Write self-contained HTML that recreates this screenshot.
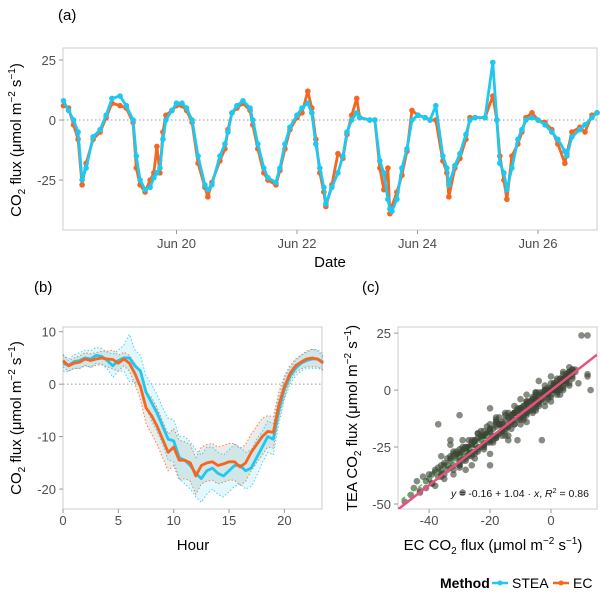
<!DOCTYPE html>
<html><head><meta charset="utf-8">
<style>
html,body{margin:0;padding:0;background:#fff;}
svg{display:block;font-family:"Liberation Sans Narrow","Liberation Sans",sans-serif;}
.tick{fill:#4d4d4d;font-size:13px;}
.ttl{fill:#000;font-size:15px;}
</style></head>
<body>
<svg id="fig" width="600" height="593" viewBox="0 0 600 593" xmlns="http://www.w3.org/2000/svg">
<text x="58" y="20" class="ttl">(a)</text>
<text x="34" y="292" class="ttl">(b)</text>
<text x="362" y="292" class="ttl">(c)</text>
<g id="pa"></g>
<g id="pb"></g>
<g id="pc"></g>
<g id="legend">
<text x="440" y="588" style="font-size:14px;font-weight:bold">Method</text>
<g>
<line x1="492" y1="583" x2="508" y2="583" stroke="#1ec8f0" stroke-width="2.5"/><circle cx="500" cy="583" r="2.5" fill="#1ec8f0"/>
<text x="512" y="588" style="font-size:14px">STEA</text></g>
<g>
<line x1="553" y1="583" x2="569" y2="583" stroke="#f8651e" stroke-width="2.5"/><circle cx="561" cy="583" r="2.5" fill="#f8651e"/>
<text x="573" y="588" style="font-size:14px">EC</text></g>
</g>
</svg>
<script>
// ---- Panel a data (hours since Jun 18 00:00) ----
const tsHours=[3,5,7,8.8,10.4,12,14.8,17.6,20,22.3,25.5,28,30.7,32,33.5,35.5,37.5,39,40.2,41.4,42.6,43.8,46.2,48,50.2,52,54.2,56.6,59.3,60.5,62.1,65.3,67.3,68.5,70.1,72.1,74.5,77.3,78.4,80.4,82.8,84.4,87.6,89.2,91.2,93.2,96,98,100.3,101.9,103.5,105.1,106.7,107.5,109.9,112.3,114.3,115.9,117.8,119.8,121,125,127,129,130.6,132.2,133,133.8,135.8,137.8,139.8,141.8,144.2,147,149,151.3,154.1,155.7,156.5,158.9,160.9,163.3,164.9,166.9,170.9,174,175.6,176.8,178.4,179.6,181.6,184,185.6,187.2,189.6,192,194.8,197.5,199.9,202.7,203.5,205.5,208.7,210.7,213.5,215.5];
const tsStea=[8,4,0,-5,-25,-20,-7,-4,2,9,10,6,0,-15,-25,-29,-28,-24,-22,-20,-8,0,4,7,7,5,0,-15,-27,-29,-27,-15,-10,-5,3,6,8,5,0,-10,-20,-24,-26,-20,-10,-3,2,5,7,3,-10,-20,-28,-35,-28,-22,-15,-5,0,3,1,0,0,-17,-22,-33,-37,-38,-33,-20,-12,0,2,1,0,6,-15,-20,-27,-19,-14,-6,0,1,1,24,0,-18,-22,-29,-20,-8,-4,0,1,0,-2,-5,-8,-13,-15,-7,-4,-2,1,3];
const tsEc=[6,5,-2,-8,-27,-18,-8,-5,1,7,6,5,-1,-20,-27,-30,-25,-22,-11,-22,-5,2,4,6,6,4,-1,-18,-28,-32,-26,-17,-12,-4,3,5,7,4,-2,-12,-22,-25,-27,-21,-12,-4,1,3,12,5,-8,-22,-30,-36,-27,-14,-16,-6,2,9,1,0,0,-20,-29,-20,-39,-36,-30,-23,-13,4,2,1,0,0,-17,-22,-32,-20,-16,-8,1,1,1,10,0,-15,-25,-33,-15,-10,-5,1,3,0,-1,-4,-10,-18,-14,-5,-3,-5,2,3];
const tsYTicks=[25,0,-25];
const tsXTickHours=[48,96,144,192];
const tsXTickLabels=["Jun 20","Jun 22","Jun 24","Jun 26"];
// ---- Panel b data ----
const hours=[0,0.5,1,1.5,2,2.5,3,3.5,4,4.5,5,5.5,6,6.5,7,7.5,8,8.5,9,9.5,10,10.5,11,11.5,12,12.5,13,13.5,14,14.5,15,15.5,16,16.5,17,17.5,18,18.5,19,19.5,20,20.5,21,21.5,22,22.5,23,23.5];
const ecMean=[4.5,3.5,4,4.2,4.8,4.5,4.8,5,4.8,4.7,4,4.8,4,2,-0.5,-4.5,-6,-8,-10.5,-13,-12,-14.5,-14.5,-15,-17.5,-15.5,-15,-14.8,-15.5,-15.2,-14.8,-14.8,-15.8,-15,-13,-11.5,-10,-9,-9.2,-4,-0.5,2,3.5,4.2,4.8,5,4.8,4];
const steaMean=[4,3.6,4.3,4.5,5,4.8,5.5,5.3,4.5,3.5,4.5,5,5,3.5,2.5,-1.5,-3.5,-5.5,-8,-10.5,-10.8,-14,-14.5,-15.5,-17,-18,-16.5,-16,-17,-17.5,-16.5,-15.5,-15.5,-16.5,-16,-14,-12,-10,-10.5,-5,-1,1.5,3,4,4.5,4.8,4.8,4.2];
const ecSpread=[1.2,1,1,1.2,1.2,1.3,1.2,1.3,1.5,1.8,1.5,1.3,1.5,2,2.5,3,3.5,3.5,3.5,3.5,3.5,3.8,3.5,3.5,3.5,3.5,3.5,3.5,3.5,3.5,3.5,3.5,3.5,3.5,3.5,3.5,3.5,3,3,2.5,2,1.5,1.3,1.3,1.5,1.7,1.5,1.3];
const steaSpread=[1.5,1.2,1.3,1.5,1.5,1.6,1.5,1.5,1.6,2.2,2,2.5,4.5,3,3,3,3.5,3.5,3.5,4,4,4,4.5,4.5,4.5,4.5,4.5,4,4,4,4,4,3.5,3.5,3.5,3.5,3,3,3,2.5,2,1.5,1.5,1.5,1.5,1.8,1.8,1.5];
const pbYTicks=[10,0,-10,-20];
const pbXTicks=[0,5,10,15,20];
// ---- Panel c data (EC x, TEA y) ----
const scEc=[-48,-46,-44,-43,-42,-41,-40,-39,-38,-37,-36,-35,-35,-34,-33,-32,-31,-30,-30,-29,-28,-28,-27,-26,-26,-25,-24,-24,-23,-22,-22,-21,-20,-20,-19,-18,-18,-17,-16,-16,-15,-14,-14,-13,-12,-12,-11,-10,-10,-9,-8,-8,-7,-6,-6,-5,-4,-4,-3,-2,-2,-1,0,0,1,2,2,3,4,4,5,6,6,7,8,-36,-35,-33,-30,-28,-27,-25,-24,-22,-21,-19,-18,-16,-15,-13,-11,-9,-7,-5,-3,-1,1,3,5,7,-38,-32,-29,-26,-23,-20,-17,-14,-12,-10,-8,-6,-4,-2,0,2,4,12,12,13,-29,-41,-3,-37,-30,-20,-10,-25,-15,-5,-33,-18,-8,3,6,
-45,-43,-40,-38,-36,-34,-33,-32,-31,-30,-29,-28,-27,-26,-25,-24,-23,-22,-21,-20,-19,-18,-17,-16,-15,-14,-13,-12,-11,-10,-9,-8,-7,-6,-5,-4,-3,-2,-1,0,1,2,3,4,5,6,7,8,
-39,-37,-35,-34,-32,-30,-29,-27,-25,-23,-21,-20,-18,-17,-15,-13,-12,-10,-9,-7,-6,-4,-3,-1,0,1,3,4,5,6,7,2,-2,-5,-8,-11,-14,-19,-24,-28,
-33,-31,-28,-26,-24,-22,-20,-18,-16,-14,-12,-10,-8,-6,-4,-2,0,2,4,6,-36,-30,-26,-22,-17,-13,-9,-5,-1,3];
const scTea=[-49,-46,-40,-45,-38,-43,-37,-41,-35,-38,-36,-32,-39,-35,-30,-33,-28,-34,-26,-31,-25,-30,-27,-29,-22,-24,-27,-21,-25,-20,-24,-19,-23,-17,-20,-21,-16,-19,-15,-18,-17,-12,-16,-14,-15,-10,-13,-12,-8,-11,-10,-6,-9,-7,-3,-6,-5,-1,-4,-2,2,-1,0,3,1,2,5,3,4,7,5,6,8,7,8,-29,-33,-24,-28,-35,-22,-30,-19,-26,-16,-23,-14,-20,-11,-17,-8,-13,-5,-9,-2,-4,3,0,6,9,-42,-37,-25,-33,-18,-28,-12,-20,-7,-15,-2,-10,4,-7,-5,-2,8,24,6,0,-45,-40,-22,-15,-11,-8,-4,-22,-10,-1,-22,-12,-14,-2,2,
-43,-44,-39,-36,-37,-33,-31,-35,-30,-32,-27,-31,-25,-28,-23,-26,-21,-25,-19,-22,-17,-21,-15,-18,-13,-16,-11,-15,-9,-13,-7,-11,-5,-9,-3,-7,-1,-5,1,-3,3,-1,5,2,4,8,6,9,
-41,-34,-37,-30,-28,-33,-26,-29,-27,-22,-23,-18,-20,-15,-16,-14,-10,-11,-7,-8,-4,-6,-2,-3,1,0,1,5,7,3,5,4,0,-1,-5,-9,-10,-22,-19,-25,
-34,-27,-29,-23,-25,-18,-22,-14,-17,-12,-13,-9,-9,-4,-5,-1,-2,2,1,6,-33,-30,-24,-23,-19,-11,-12,-4,-2,3];
const pcXTicks=[-40,-20,0];
const pcYTicks=[25,0,-25,-50];
const fitIntercept=-0.16, fitSlope=1.04;

const NS="http://www.w3.org/2000/svg";
function mk(tag,attrs,parent){const e=document.createElementNS(NS,tag);for(const k in attrs)e.setAttribute(k,attrs[k]);parent.appendChild(e);return e;}
function lin(d0,d1,r0,r1){return v=>r0+(v-d0)/(d1-d0)*(r1-r0);}
const EC="#f8651e", ST="#1ec8f0";
const UNIT='<tspan font-size="10" dy="4">2</tspan><tspan dy="-4"> flux (μmol m</tspan><tspan font-size="10" dy="-6">−2</tspan><tspan dy="6"> s</tspan><tspan font-size="10" dy="-6">−1</tspan><tspan dy="6">)</tspan>';

// ===== Panel a =====
(function(){
 const g=document.getElementById('pa');
 const L=63,R=597,T=48,B=230;
 const x=lin(2.8,215.5,L,R), y=lin(30,-45.8,T,B);
 let e=mk('rect',{x:L,y:T,width:R-L,height:B-T,fill:'none',stroke:'#ccc'},g);
 
 e=mk('line',{x1:L,x2:R,y1:y(0),y2:y(0),stroke:'#999','stroke-dasharray':'1.5,2.5'},g);
 
 tsYTicks.forEach(v=>{mk('line',{x1:L-4,x2:L,y1:y(v),y2:y(v),stroke:'#999'},g);
  const t=mk('text',{x:L-7,y:y(v)+5,'text-anchor':'end',class:'tick'},g);t.textContent=v;
  });
 tsXTickHours.forEach((h,i)=>{mk('line',{x1:x(h),x2:x(h),y1:B,y2:B+4,stroke:'#999'},g);
  const t=mk('text',{x:x(h),y:248,'text-anchor':'middle',class:'tick'},g);t.textContent=tsXTickLabels[i];
  });
 let t=mk('text',{x:330,y:267,'text-anchor':'middle',class:'ttl'},g);t.textContent='Date';
 
 t=mk('text',{x:0,y:0,'text-anchor':'middle',class:'ttl',transform:'translate(21,140) rotate(-90)'},g);
 t.innerHTML='CO'+UNIT;
 
 [[tsEc,EC,'ec'],[tsStea,ST,'stea']].forEach(([arr,c,n])=>{
  const p=mk('polyline',{points:tsHours.map((h,i)=>x(h)+','+y(arr[i])).join(' '),fill:'none',stroke:c,'stroke-width':2.8,'stroke-linejoin':'round'},g);
  
  tsHours.forEach((h,i)=>{const d=mk('circle',{cx:x(h),cy:y(arr[i]),r:2.8,fill:c},g);
   });
 });
})();

// ===== Panel b =====
(function(){
 const g=document.getElementById('pb');
 const L=63,R=322,T=327,B=509;
 const x=lin(0,23.4,L,R), y=lin(10.9,-23.8,T,B);
 let e=mk('rect',{x:L,y:T,width:R-L,height:B-T,fill:'none',stroke:'#ccc'},g);
 
 e=mk('line',{x1:L,x2:R,y1:y(0),y2:y(0),stroke:'#999','stroke-dasharray':'1.5,2.5'},g);
 
 pbYTicks.forEach(v=>{mk('line',{x1:L-4,x2:L,y1:y(v),y2:y(v),stroke:'#999'},g);
  const t=mk('text',{x:L-7,y:y(v)+5,'text-anchor':'end',class:'tick'},g);t.textContent=v;
  });
 pbXTicks.forEach(v=>{mk('line',{x1:x(v),x2:x(v),y1:B,y2:B+4,stroke:'#999'},g);
  const t=mk('text',{x:x(v),y:525,'text-anchor':'middle',class:'tick'},g);t.textContent=v;
  });
 let t=mk('text',{x:193,y:550,'text-anchor':'middle',class:'ttl'},g);t.textContent='Hour';
 
 t=mk('text',{x:0,y:0,'text-anchor':'middle',class:'ttl',transform:'translate(21,418) rotate(-90)'},g);
 t.innerHTML='CO'+UNIT;
 
 [[ecMean,ecSpread,EC,'rgba(120,120,110,0.15)','ec'],[steaMean,steaSpread,ST,'rgba(30,200,240,0.13)','stea']].forEach(([m,s,c,f,n])=>{
  const up=hours.map((h,i)=>x(h)+','+y(m[i]+s[i])), lo=hours.map((h,i)=>x(h)+','+y(m[i]-s[i]));
  const b=mk('polygon',{points:up.concat(lo.slice().reverse()).join(' '),fill:f,stroke:'none'},g);
  
  [up,lo].forEach(pts=>{const l=mk('polyline',{points:pts.join(' '),fill:'none',stroke:c,'stroke-width':1,'stroke-dasharray':'1.5,2',opacity:0.8},g);
   });
 });
 [[steaMean,ST,'stea'],[ecMean,EC,'ec']].forEach(([m,c,n])=>{
  const p=mk('polyline',{points:hours.map((h,i)=>x(h)+','+y(m[i])).join(' '),fill:'none',stroke:c,'stroke-width':2.8,'stroke-linejoin':'round'},g);
  
 });
})();

// ===== Panel c =====
(function(){
 const g=document.getElementById('pc');
 const L=398,R=597,T=327,B=509;
 const x=lin(-50.2,15.1,L,R), y=lin(27.7,-52.2,T,B);
 let e=mk('rect',{x:L,y:T,width:R-L,height:B-T,fill:'none',stroke:'#ccc'},g);
 
 pcYTicks.forEach(v=>{mk('line',{x1:L-4,x2:L,y1:y(v),y2:y(v),stroke:'#999'},g);
  const t=mk('text',{x:L-7,y:y(v)+5,'text-anchor':'end',class:'tick'},g);t.textContent=v;
  });
 pcXTicks.forEach(v=>{mk('line',{x1:x(v),x2:x(v),y1:B,y2:B+4,stroke:'#999'},g);
  const t=mk('text',{x:x(v),y:525,'text-anchor':'middle',class:'tick'},g);t.textContent=v;
  });
 let t=mk('text',{x:493,y:550,'text-anchor':'middle',class:'ttl'},g);
 t.innerHTML='EC CO'+UNIT;
 
 t=mk('text',{x:0,y:0,'text-anchor':'middle',class:'ttl',transform:'translate(357,418) rotate(-90)'},g);
 t.innerHTML='TEA CO'+UNIT;
 
 const cl=mk('clipPath',{id:'cclip'},g);mk('rect',{x:L,y:T,width:R-L,height:B-T},cl);
 const pg=mk('g',{'clip-path':'url(#cclip)'},g);
 const xs=scEc.concat(tsEc), ys=scTea.concat(tsStea);
 xs.forEach((v,i)=>{const d=mk('circle',{cx:x(v),cy:y(ys[i]),r:3.3,fill:'#3b4536','fill-opacity':0.62},pg);
  });
 e=mk('line',{x1:x(-49),y1:y(-48),x2:x(-20),y2:y(-19.5),stroke:'#3ec43e','stroke-width':1.3,'stroke-dasharray':'4,3'},pg);
 
 e=mk('line',{x1:x(-50.2),y1:y(fitIntercept+fitSlope*-50.2),x2:x(15.1),y2:y(fitIntercept+fitSlope*15.1),stroke:'#ec4f7d','stroke-width':2.5},pg);
 
 t=mk('text',{x:520,y:497,'text-anchor':'middle',style:'font-size:10.5px;fill:#111'},g);
 t.innerHTML='<tspan font-style="italic">y</tspan> = -0.16 + 1.04 · <tspan font-style="italic">x</tspan>,  <tspan font-style="italic">R</tspan><tspan font-size="7" dy="-4">2</tspan><tspan dy="4"> = 0.86</tspan>';
 
})();
</script>
</body></html>
